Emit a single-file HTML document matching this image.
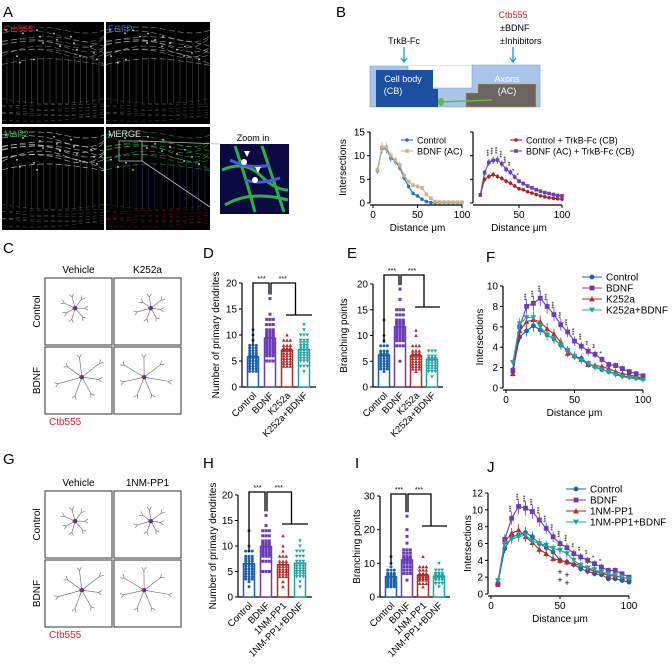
<!DOCTYPE html>
<html><head><meta charset="utf-8"><style>
body{margin:0;background:#fff}
svg{display:block;font-family:"Liberation Sans",Arial,sans-serif}
</style></head><body>
<svg id="fig" width="672" height="670" viewBox="0 0 672 670">
<g id="panelA">
<text x="3" y="17" font-size="15">A</text>
<rect x="2" y="22" width="102" height="102" fill="#000"/>
<rect x="106" y="22" width="104" height="102" fill="#000"/>
<rect x="2" y="127" width="102" height="103" fill="#000"/>
<rect x="106" y="127" width="104" height="103" fill="#000"/>
<g id="micro"></g>
<text x="4" y="32" font-size="9" fill="#e0202a">Ctb555</text>
<text x="108" y="32" font-size="9" fill="#2a7ad8">EGFP</text>
<text x="4" y="137" font-size="9" fill="#2db040">MAP2</text>
<text x="108" y="137" font-size="9" fill="#ddd">MERGE</text>
<rect x="119" y="141" width="23" height="20" fill="none" stroke="#bbb" stroke-width="0.8"/>
<line x1="142" y1="141" x2="220" y2="144" stroke="#bbb" stroke-width="0.8"/>
<line x1="142" y1="161" x2="210" y2="207" stroke="#bbb" stroke-width="0.8"/>
<text x="253" y="141" font-size="9" text-anchor="middle">Zoom in</text>
<rect x="220" y="144" width="69" height="70" fill="#0a0a40"/>
<path d="M222 170 Q245 160 260 175 T288 190 M225 205 Q250 190 288 200 M235 146 Q245 175 255 212 M262 146 Q270 170 284 212" stroke="#2bb04a" stroke-width="3" fill="none"/>
<path d="M230 160 Q250 170 270 165 M245 180 Q260 185 280 178" stroke="#4a5be0" stroke-width="3" fill="none"/>
<circle cx="244" cy="162" r="3" fill="#fff"/>
<circle cx="255" cy="180" r="3" fill="#fff"/>
<path d="M244 151 l6 0 l-3 6z M255 167 l6 0 l-3 6z" fill="#fff"/>
</g>

<g id="panelB">
<text x="336" y="17" font-size="15">B</text>
<text x="513" y="18" font-size="9" fill="#e0202a" text-anchor="middle">Ctb555</text>
<text x="500" y="31" font-size="9">±BDNF</text>
<text x="500" y="44" font-size="9">±Inhibitors</text>
<text x="404" y="44" font-size="9" text-anchor="middle">TrkB-Fc</text>
<path d="M404 47 V61 M401 58 l3 4 l3 -4 M513 47 V61 M510 58 l3 4 l3 -4" stroke="#1ea0e0" stroke-width="1.4" fill="none"/>
<path d="M370 66 H472 V65 H540 V107 H370 Z" fill="#a9c4ea" stroke="#7f9bc6" stroke-width="0.6"/>
<path d="M408 66 V88 H472 V66" fill="#fff" stroke="#7f9bc6" stroke-width="0.6"/>
<path d="M376 70 H433 V89 H438 V107 H376 Z" fill="#1d4fa0"/>
<path d="M478 84 H536 V107 H466 V93 H478 Z" fill="#6b6461" stroke="#c9a24a" stroke-width="0.6"/>
<line x1="440" y1="102" x2="492" y2="100" stroke="#5ac03a" stroke-width="1.5"/>
<ellipse cx="441" cy="102" rx="3" ry="4" fill="#5ac03a"/>
<text x="403" y="82" font-size="9" fill="#fff" text-anchor="middle">Cell body</text>
<text x="393" y="94" font-size="9" fill="#fff" text-anchor="middle">(CB)</text>
<text x="507" y="82" font-size="9" fill="#fff" text-anchor="middle">Axons</text>
<text x="507" y="94" font-size="9" fill="#fff" text-anchor="middle">(AC)</text>
<g id="bcharts"></g>
</g>

<g id="panelC"></g>
<g id="panelG"></g>
<g id="bars"></g>
<g id="lines"></g>
</svg>
<script>
const NS="http://www.w3.org/2000/svg";
function el(parent,tag,attrs,txt){const e=document.createElementNS(NS,tag);for(const k in attrs)e.setAttribute(k,attrs[k]);if(txt!==undefined)e.textContent=txt;parent.appendChild(e);return e;}
const BLUE="#1f5fa8",PURPLE="#6a3db8",RED="#b22a2a",TEAL="#1fa3a0",TAN="#c9b48a",DRED="#b0202a";

// ---- DATA ----
const distances=[5,10,15,20,25,30,35,40,45,50,55,60,65,70,75,80,85,90,95,100];
const bLeftControl=[6.8,11.5,11.5,9.5,8.8,7.5,5.3,3.5,2.0,1.5,0.8,0.3,0.1,0.1,0.1,0.1,0.1,0.1,0.1,0.1];
const bLeftBdnf=[7,11.8,11.8,10,9,8,5.8,4.5,3.8,3.5,3.2,1.8,1.0,0.3,0.2,0.2,0.2,0.2,0.2,0.2];
const bRightControl=[1.7,5,5.6,6,5.6,5.2,4.6,4.2,3.6,3.0,2.8,2.4,2.1,1.8,1.5,1.3,1.1,1.0,0.9,0.8];
const bRightBdnf=[1.7,6.4,8.6,9.0,9.1,8.3,7.1,6.5,5.5,4.6,4.1,3.6,3.2,2.8,2.5,2.2,2.0,1.8,1.6,1.5];
const fControl=[1.8,5.0,5.6,6.1,5.7,5.2,4.8,4.2,3.7,3.1,2.9,2.4,2.1,1.8,1.6,1.4,1.2,1.1,1.0,0.9];
const fBdnf=[1.7,6.0,8.0,8.3,8.8,8.0,7.2,6.2,5.5,4.6,4.1,3.6,3.3,2.8,2.3,2.2,1.9,1.6,1.4,1.2];
const fK252a=[1.4,5.6,6.5,6.7,6.5,5.8,5.3,4.5,3.4,3.2,2.8,2.3,2.2,2.1,1.9,1.6,1.4,1.3,1.1,1.0];
const fK252aBdnf=[2.5,6.3,6.9,6.9,6.0,5.2,4.8,4.2,3.7,3.1,2.7,2.4,2.0,1.8,1.6,1.3,1.1,1.0,0.9,0.8];
const jControl=[1.3,5.4,6.8,7.0,7.3,6.8,6.0,5.5,5.0,4.0,3.8,3.5,3.0,2.7,2.4,2.3,1.8,1.8,1.6,1.4];
const jBdnf=[1.1,6.5,9.0,10.4,10.2,9.8,8.8,7.8,6.8,6.0,5.5,4.8,4.4,4.0,3.6,3.2,2.8,2.8,2.4,2.0];
const j1nm=[1.4,6.2,7.2,7.6,6.8,6.1,5.3,4.8,4.2,4.0,3.8,3.6,3.4,3.0,2.7,2.5,2.2,2.1,2.0,1.8];
const j1nmBdnf=[1.6,6.0,6.5,6.8,7.0,6.3,6.0,5.8,5.4,5.2,4.8,4.0,3.4,3.1,2.9,2.6,2.4,2.2,2.0,1.8];
const fStars=["","","***","***","***","***","***","***","***","***","***","**","**","*"];
const jStars=["","","***","***","***","***","***","***","***","***","***","**","**","**","*","*"];
const dCats=["Control","BDNF","K252a","K252a+BDNF"];
const dMeans=[5.8,9.4,7.1,7.2];
const eMeans=[6.2,11.7,6.1,5.4];
const hCats=["Control","BDNF","1NM-PP1","1NM-PP1+BDNF"];
const hMeans=[6.5,9.9,6.3,6.6];
const iMeans=[6.0,11.0,6.5,6.2];
const dPts=[[3,3.5,4,4.5,5,5,5.5,6,6,6.5,7,7.5,8,9,10,11],[5,6,6.5,7,7.5,8,8.5,9,9.5,10,10.5,11,12,13,14,17],[4,4.5,5,5.5,6,6.5,7,7,7.5,8,9,10],[3,4,5,5.5,6,6.5,7,7.5,8,8.5,9,10,11,12]];
const ePts=[[3,3.5,4,4.5,5,5.5,6,6.5,7,8,9,10,13],[5,8,9,9.5,10,10.5,11,11.5,12,12.5,13,14,15,17,19],[3,3.5,4,4.5,5,5.5,6,6.5,7,8,10,11],[2,3,3.5,4,4.5,5,5.5,6,7]];
const hPts=[[2,3,3.5,4,4.5,5,5.5,6,6.5,7,7.5,8,9,10,13],[5,7,8,8.5,9,9.5,10,10.5,11,12,13,14,16],[2,3,4,4.5,5,5.5,6,6.5,7,8,9,10,12],[2,3,4,4.5,5,5.5,6,6.5,7,8,9,10,11]];
const iPts=[[3,3.5,4,4.5,5,5.5,6,6.5,7,8,9,10,12],[5,7,8,9,10,10.5,11,11.5,12,13,14,16,18,20,24],[3,4,5,5.5,6,6.5,7,8,9,12],[3,4,5,5.5,6,6.5,7,8,10]];
const groupColors=[BLUE,PURPLE,RED,TEAL];
const groupMarks=["circle","square","tri","itri"];

// ---- microscopy approximations ----
const mg=document.getElementById('micro');
function micro(x0,y0,w,h,col,dense,bottom,op){
  for(let i=0;i<16;i++){const x=x0+5+i*(w-10)/15;el(mg,'line',{x1:x,y1:y0+h*0.35,x2:x,y2:y0+h*0.8,stroke:col,'stroke-width':0.5,opacity:0.55});}
  for(let i=0;i<10;i++){const yy=y0+8+(i%6)*h*0.05;el(mg,'path',{d:`M${x0} ${yy+ (i*7)%13} Q${x0+w/3} ${yy-6+(i*5)%9} ${x0+w*0.6} ${yy+ (i*3)%11} T${x0+w} ${yy+(i*11)%15}`,stroke:dense,'stroke-width':0.7,fill:'none',opacity:op,'stroke-dasharray':'6 3'});}
  for(let i=0;i<7;i++){const yy=y0+h*0.75+i*2.6;el(mg,'path',{d:`M${x0} ${yy+(i*5)%8} Q${x0+w/2} ${yy+10-(i*7)%14} ${x0+w} ${yy+(i*3)%9}`,stroke:bottom,'stroke-width':0.5,fill:'none',opacity:0.6,'stroke-dasharray':'4 3'});}
  for(let i=0;i<18;i++){el(mg,'circle',{cx:x0+4+(i*37)%(w-8),cy:y0+8+(i*13)%(h*0.35),r:0.9,fill:'#fff',opacity:0.8});}
}
micro(2,22,102,102,'#aaa','#bbb','#999',0.5);
micro(106,22,104,102,'#888','#ccc','#777',0.6);
micro(2,127,102,103,'#888','#ddd','#888',0.75);
micro(106,127,104,103,'#4a5ac8','#2bb04a','#c02020',0.7);

// ---- helpers ----
function marker(g,type,x,y,s,col){
  let m;
  if(type==="circle")m=el(g,'circle',{cx:x,cy:y,r:s,fill:col});
  else if(type==="square")m=el(g,'rect',{x:x-s,y:y-s,width:2*s,height:2*s,fill:col});
  else if(type==="tri")m=el(g,'path',{d:`M${x} ${y-s*1.2}L${x+s*1.2} ${y+s}L${x-s*1.2} ${y+s}Z`,fill:col});
  else m=el(g,'path',{d:`M${x} ${y+s*1.2}L${x+s*1.2} ${y-s}L${x-s*1.2} ${y-s}Z`,fill:col});
  return m;
}
function lineChart(g,o){
  const sx=v=>o.x0+(v-o.xmin)/(o.xmax-o.xmin)*(o.x1-o.x0);
  const sy=v=>o.y0-(v/o.ymax)*(o.y0-o.y1);
  if(o.yaxis!==false){
    const ya=el(g,'line',{x1:o.x0-3,y1:o.y0,x2:o.x0-3,y2:o.y1,stroke:'#000','stroke-width':1.2});
    
  }
  const xa=el(g,'line',{x1:o.x0-3,y1:o.y0+2,x2:o.x1,y2:o.y0+2,stroke:'#000','stroke-width':1.2});
  
  o.yticks.forEach(t=>{
    el(g,'line',{x1:o.x0-6,y1:sy(t),x2:o.x0-3,y2:sy(t),stroke:'#000','stroke-width':1});
    if(o.ylabels!==false){const tl=el(g,'text',{x:o.x0-8,y:sy(t)+3.5,'font-size':10,'text-anchor':'end'},String(t));
      }
  });
  o.xticks.forEach(t=>{
    el(g,'line',{x1:sx(t),y1:o.y0+2,x2:sx(t),y2:o.y0+5,stroke:'#000','stroke-width':1});
    const tl=el(g,'text',{x:sx(t),y:o.y0+15,'font-size':10,'text-anchor':'middle'},String(t));
    
  });
  if(o.ytitle){const yt=el(g,'text',{x:0,y:0,'font-size':10,'text-anchor':'middle',transform:`translate(${o.ytx},${(o.y0+o.y1)/2}) rotate(-90)`},o.ytitle);
    }
  const xt=el(g,'text',{x:(o.x0+o.x1)/2,y:o.y0+28,'font-size':10,'text-anchor':'middle'},'Distance μm');
  
  o.series.forEach((s,si)=>{
    const sg=el(g,'g',{});
    
    const pts=distances.map((d,i)=>sx(d)+','+sy(s.data[i])).join(' ');
    el(sg,'polyline',{points:pts,fill:'none',stroke:s.col,'stroke-width':1.1});
    distances.forEach((d,i)=>{
      const e=s.data[i]*0.07+0.15;
      el(sg,'line',{x1:sx(d),y1:sy(s.data[i]+e),x2:sx(d),y2:sy(s.data[i]-e),stroke:s.col,'stroke-width':0.8});
      const m=marker(sg,s.mark,sx(d),sy(s.data[i]),o.ms,s.col);
      
    });
    if(o.legend){
      const lx=o.legend.x,ly=o.legend.y+si*o.legend.dy;
      el(g,'line',{x1:lx,y1:ly,x2:lx+o.legend.len,y2:ly,stroke:s.col,'stroke-width':1.1});
      marker(g,s.mark,lx+o.legend.len/2,ly,o.ms,s.col);
      const lt=el(g,'text',{x:lx+o.legend.len+4,y:ly+3.5,'font-size':o.legend.fs},s.label);
      
    }
  });
  if(o.stars){const top=o.series[1].data;
    o.stars.forEach((st,i)=>{if(!st)return;
      const t=el(g,'text',{x:0,y:0,'font-size':6,'text-anchor':'start',transform:`translate(${sx(distances[i])+2},${sy(top[i])-6}) rotate(-90)`},st);
      });
  }
  return {sx,sy};
}

// ---- B charts ----
const bc=document.getElementById('bcharts');
lineChart(bc,{name:'b-left',x0:373,x1:462,xmin:0,xmax:100,y0:203,y1:132,ymax:15,yticks:[0,5,10,15],xticks:[0,50,100],ytitle:'Intersections',ytx:346,ms:1.8,
  series:[{key:'control',data:bLeftControl,col:'#2a6fc8',mark:'circle',label:'Control'},{key:'bdnf-ac',data:bLeftBdnf,col:TAN,mark:'square',label:'BDNF (AC)'}],
  legend:{x:401,y:140,dy:11,len:12,fs:9}});
lineChart(bc,{name:'b-right',x0:476,x1:562,xmin:0,xmax:100,y0:203,y1:132,ymax:15,yticks:[0,5,10,15],ylabels:false,xticks:[50,100],ms:1.8,
  series:[{key:'control-trkb',data:bRightControl,col:DRED,mark:'circle',label:'Control + TrkB-Fc (CB)'},{key:'bdnf-trkb',data:bRightBdnf,col:PURPLE,mark:'square',label:'BDNF (AC) + TrkB-Fc (CB)'}],
  legend:{x:510,y:140,dy:11,len:12,fs:9},stars:["","","***","***","***","***","***","**","*","*"]});

// ---- F and J ----
const lg=document.getElementById('lines');
el(lg,'text',{x:486,y:262,'font-size':15},'F');
lineChart(lg,{name:'f',x0:506,x1:643,xmin:0,xmax:100,y0:388,y1:286,ymax:10,yticks:[0,2,4,6,8,10],xticks:[0,50,100],ytitle:'Intersections',ytx:483,ms:2.4,
  series:[{key:'control',data:fControl,col:BLUE,mark:'circle',label:'Control'},{key:'bdnf',data:fBdnf,col:PURPLE,mark:'square',label:'BDNF'},
    {key:'k252a',data:fK252a,col:RED,mark:'tri',label:'K252a'},{key:'k252a-bdnf',data:fK252aBdnf,col:TEAL,mark:'itri',label:'K252a+BDNF'}],
  legend:{x:582,y:277,dy:11,len:20,fs:10},stars:fStars});
el(lg,'text',{x:487,y:472,'font-size':15},'J');
lineChart(lg,{name:'j',x0:491,x1:629,xmin:0,xmax:100,y0:594,y1:493,ymax:12,yticks:[0,2,4,6,8,10,12],xticks:[0,50,100],ytitle:'Intersections',ytx:471,ms:2.4,
  series:[{key:'control',data:jControl,col:BLUE,mark:'circle',label:'Control'},{key:'bdnf',data:jBdnf,col:PURPLE,mark:'square',label:'BDNF'},
    {key:'1nm-pp1',data:j1nm,col:RED,mark:'tri',label:'1NM-PP1'},{key:'1nm-pp1-bdnf',data:j1nmBdnf,col:TEAL,mark:'itri',label:'1NM-PP1+BDNF'}],
  legend:{x:566,y:489,dy:11,len:20,fs:10},stars:jStars});
[[560,575],[560,583],[567,578],[567,586]].forEach(p=>{const t=el(lg,'text',{x:p[0],y:p[1],'font-size':9,'text-anchor':'middle'},'+');});

// ---- bar charts ----
const bg=document.getElementById('bars');
function barChart(o){
  const g=el(bg,'g',{});
  const sy=v=>o.y0-v/o.ymax*(o.y0-o.y1);
  const lab=el(g,'text',{x:o.lx,y:o.ly,'font-size':15},o.letter);
  el(g,'line',{x1:o.x0,y1:o.y0,x2:o.x0,y2:o.y1,stroke:'#000','stroke-width':1.2});
  el(g,'line',{x1:o.x0,y1:o.y0,x2:o.x0+o.step*4+6,y2:o.y0,stroke:'#000','stroke-width':1.2});
  o.yticks.forEach(t=>{el(g,'line',{x1:o.x0-3,y1:sy(t),x2:o.x0,y2:sy(t),stroke:'#000'});
    const tl=el(g,'text',{x:o.x0-5,y:sy(t)+3.5,'font-size':10,'text-anchor':'end'},String(t));});
  const yt=el(g,'text',{x:0,y:0,'font-size':10,'text-anchor':'middle',transform:`translate(${o.ytx},${(o.y0+o.y1)/2}) rotate(-90)`},o.ytitle);
  
  const cx=i=>o.x0+11+i*o.step;
  o.means.forEach((m,i)=>{
    const c=groupColors[i];
    const b=el(g,'rect',{x:cx(i)-5.5,y:sy(m),width:11,height:o.y0-sy(m),fill:'#fff',stroke:c,'stroke-width':1.5});
    
    o.pts[i].forEach((v,k)=>{const n=v>m*1.4||v<m*0.5?1:3;for(let q=0;q<n;q++){const dx=n===1?0:(q-1)*3.3;marker(g,groupMarks[i],cx(i)+dx,sy(v),1.5,c);}});
    el(g,'line',{x1:cx(i)-5,y1:sy(m),x2:cx(i)+5,y2:sy(m),stroke:c,'stroke-width':1.5});
    const t=el(g,'text',{x:0,y:0,'font-size':9.5,'text-anchor':'end',transform:`translate(${cx(i)+4},${o.y0+9}) rotate(-45)`},o.cats[i]);
    
  });
  const by=o.by;
  const p=`M${cx(0)} ${sy(o.means[0])-12} V${by} H${cx(1)-1} V${sy(Math.max(...o.pts[1]))-4} M${cx(1)+1} ${sy(Math.max(...o.pts[1]))-4} V${by} H${(cx(2)+cx(3))/2} V${by+32} M${cx(2)-1} ${by+32} H${cx(3)+8}`;
  const br=el(g,'path',{d:p,fill:'none',stroke:'#000','stroke-width':1.3});
  [(cx(0)+cx(1))/2,(cx(1)+(cx(2)+cx(3))/2)/2].forEach(x=>{const s=el(g,'text',{x:x,y:by-2,'font-size':7,'text-anchor':'middle'},'***');});
}
barChart({name:'d',letter:'D',lx:203,ly:258,x0:242,y0:387,y1:283,ymax:20,yticks:[0,5,10,15,20],step:17,ytx:219,ytitle:'Number of primary dendrites',means:dMeans,pts:dPts,cats:dCats,by:283});
barChart({name:'e',letter:'E',lx:347,ly:258,x0:373,y0:387,y1:284,ymax:20,yticks:[0,5,10,15,20],step:16,ytx:347,ytitle:'Branching points',means:eMeans,pts:ePts,cats:dCats,by:275});
barChart({name:'h',letter:'H',lx:203,ly:468,x0:238,y0:597,y1:495,ymax:20,yticks:[0,5,10,15,20],step:17,ytx:216,ytitle:'Number of primary dendrites',means:hMeans,pts:hPts,cats:hCats,by:492});
barChart({name:'i',letter:'I',lx:355,ly:468,x0:380,y0:597,y1:496,ymax:30,yticks:[0,10,20,30],step:16,ytx:360,ytitle:'Branching points',means:iMeans,pts:iPts,cats:hCats,by:494});

// ---- C & G tracings ----
function tracing(gid,letter,ly,cols,top,h,ctbY){
  const g=document.getElementById(gid);
  el(g,'text',{x:3,y:ly,'font-size':15},letter);
  const bx=[45,114],w=67;
  cols.forEach((c,i)=>{const t=el(g,'text',{x:bx[i]+w/2,y:top-5,'font-size':10,'text-anchor':'middle'},c);});
  ['Control','BDNF'].forEach((r,j)=>{const y=top+j*(h+2);
    const t=el(g,'text',{x:0,y:0,'font-size':10,'text-anchor':'middle',transform:`translate(${bx[0]-5},${y+h/2}) rotate(-90)`},r);
    bx.forEach((x,i)=>{
      const b=el(g,'rect',{x:x,y:y,width:w,height:h,fill:'#fff',stroke:'#555','stroke-width':1.2});
      const cx=x+w*(0.45+0.1*((i+j)%2)),cy=y+h*0.45;
      const len=j?28:16;
      let d='';for(let k=0;k<7;k++){const a=k*0.9+i+j;const ex=cx+Math.cos(a)*len*(0.6+0.15*(k%3)),ey=cy+Math.sin(a)*len*0.7;d+=`M${cx} ${cy} L${ex} ${ey} l${4*Math.cos(a+0.6)} ${4*Math.sin(a+0.6)} M${ex} ${ey} l${4*Math.cos(a-0.6)} ${4*Math.sin(a-0.6)} `;}
      el(g,'path',{d:d,stroke:'#666','stroke-width':0.6,fill:'none'});
      el(g,'circle',{cx:cx,cy:cy,r:2.2,fill:'#3040a0'});el(g,'circle',{cx:cx-1.5,cy:cy,r:1.2,fill:'#e0202a'});
    });
  });
  const t=el(g,'text',{x:49,y:ctbY,'font-size':10,fill:'#e0202a'},'Ctb555');
}
tracing('panelC','C',253,['Vehicle','K252a'],278,67,425);
tracing('panelG','G',464,['Vehicle','1NM-PP1'],491,67,638);
</script>
</body></html>
